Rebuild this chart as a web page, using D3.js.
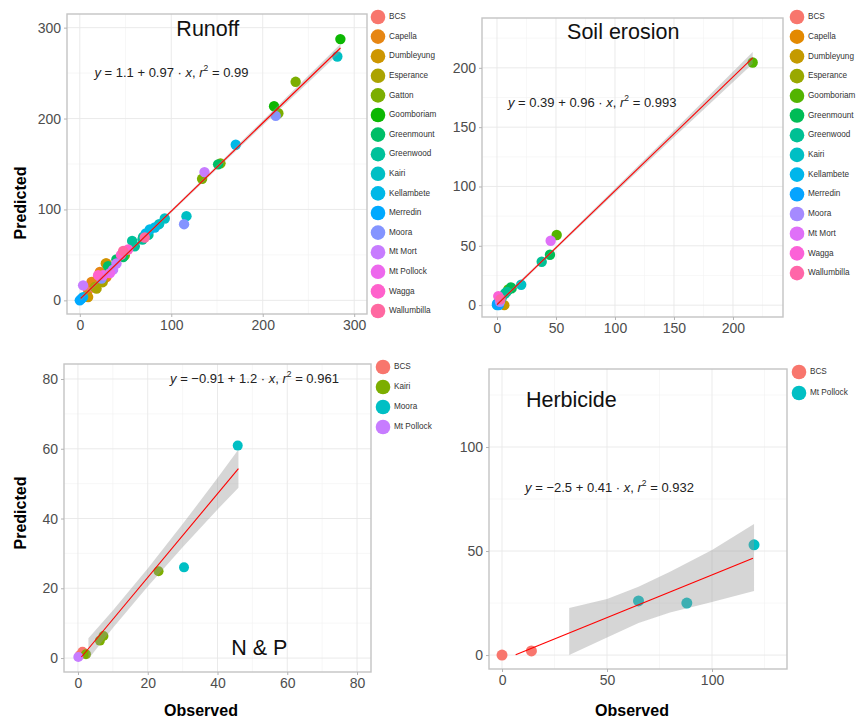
<!DOCTYPE html>
<html>
<head>
<meta charset="utf-8">
<script src="https://cdn.jsdelivr.net/npm/d3@7"></script>
<style>
  body { margin: 0; background: #fff; }
  text { font-family: "Liberation Sans", Arial, sans-serif; }
</style>
</head>
<body>
<script>
// ---- sites (legend order) ----
var runoffSites = ["BCS","Capella","Dumbleyung","Esperance","Gatton","Goomboriam","Greenmount","Greenwood","Kairi","Kellambete","Merredin","Moora","Mt Mort","Mt Pollock","Wagga","Wallumbilla"];
var soilSites = ["BCS","Capella","Dumbleyung","Esperance","Goomboriam","Greenmount","Greenwood","Kairi","Kellambete","Merredin","Moora","Mt Mort","Wagga","Wallumbilla"];
var npSites = ["BCS","Kairi","Moora","Mt Pollock"];
var herbSites = ["BCS","Mt Pollock"];

// ---- runoff points ----
var runoffSite = ["BCS","BCS","Capella","Capella","Capella","Capella","Capella","Dumbleyung","Dumbleyung","Dumbleyung","Esperance","Esperance","Esperance","Gatton","Gatton","Gatton","Gatton","Gatton","Goomboriam","Goomboriam","Greenmount","Greenmount","Greenmount","Greenmount","Greenwood","Greenwood","Greenwood","Greenwood","Greenwood","Kairi","Kairi","Kairi","Kairi","Kellambete","Kellambete","Kellambete","Kellambete","Kellambete","Merredin","Merredin","Moora","Moora","Moora","Mt Mort","Mt Mort","Mt Mort","Mt Mort","Mt Pollock","Mt Pollock","Wagga","Wagga","Wagga","Wallumbilla","Wallumbilla"];
var runoffObs  = [9,33,21.9,29.2,18.3,12.8,29.2,28.4,8,9.1,16.4,18.3,25,236,217.1,133.7,153.8,49.2,284.9,212.4,151.2,47.4,30.9,40,57.2,60.1,68.5,69.2,75,281.6,116.6,86.7,92.9,170.5,82,76.5,72.1,3.6,0,1.9,214.2,114,23.7,136.3,40.1,36.4,3.6,25.5,33,52.8,20,45,71,47.4];
var runoffPred = [11,35,31.2,25.7,22.1,20.2,40.5,40.5,5.5,3.6,14.7,12.9,20,240.4,205.8,133.7,150.7,49.6,287.4,213.5,149.6,47.7,37.5,45,65.4,59.5,66.9,69.8,72,268.3,92.6,83.8,90,171.2,80.2,77.9,73.5,3.6,0,1.9,202.9,83.8,23.9,141.1,40.5,33.8,16.5,27.6,30,55.9,27.6,50,69.1,54.4];

// ---- soil erosion points ----
var soilSite = ["BCS","Capella","Dumbleyung","Esperance","Goomboriam","Goomboriam","Goomboriam","Greenmount","Greenmount","Greenmount","Greenwood","Greenwood","Greenwood","Greenwood","Kairi","Kellambete","Merredin","Merredin","Moora","Mt Mort","Wagga","Wallumbilla"];
var soilObs  = [1,2,6.2,3,216.7,50.6,9.6,44.9,11.9,12.4,37.9,6.8,4,8.2,20.5,0,0,1.5,2.5,45.5,1.1,3];
var soilPred = [2,1,0,4,204.5,59.1,13.2,42.5,14.9,14.1,36.6,9.8,6.2,11.2,17.2,0,1.2,0,2.8,54.3,7.6,5];

// ---- N & P points ----
var npSite = ["BCS","BCS","Kairi","Kairi","Kairi","Kairi","Moora","Moora","Mt Pollock"];
var npObs  = [1.3,0.5,2.3,6.3,7.3,23.1,30.4,45.8,0.1];
var npPred = [1.8,0.8,1.1,5,6.3,24.9,26,60.9,0.3];

// ---- herbicide points ----
var herbSite = ["BCS","BCS","Mt Pollock","Mt Pollock","Mt Pollock"];
var herbObs  = [0,14,65,88,120];
var herbPred = [0,2,26,25,53];

// ---- fitted lines and confidence bands ----
var runoffFitX = [1,285], runoffFitY = [2.1,277.6];
var runoffBandX = [1,50,100,150,200,285];
var runoffBandLo = [-0.4,47.8,96.5,144.6,192.3,273.1];
var runoffBandHi = [4.6,51.4,99.7,148.6,197.9,282.1];

var soilFitX = [0,216.7], soilFitY = [0.4,208.4];
var soilBandX = [0,50,100,150,216.7];
var soilBandLo = [-1.2,47.1,94.6,141.6,203.4];
var soilBandHi = [2.0,49.7,98.2,147.2,213.4];

var npFitX = [1,46], npFitY = [0.3,54.3];
var npBandX = [3,10,20,30,40,46];
var npBandLo = [-0.3,8.6,20.5,31.8,42.6,48.8];
var npBandHi = [5.7,13.6,25.7,38.4,51.6,59.8];

var herbFitX = [6.5,119.5], herbFitY = [0.2,46.5];
var herbBandX = [32,50,65,80,100,120];
var herbBandLo = [0,8.5,15.4,20.5,25.5,30.8];
var herbBandHi = [22.6,27,32.8,40,50.5,63];

// ---- equations ----
var runoffEq = ["1.1 + 0.97", "0.99"];
var soilEq = ["0.39 + 0.96", "0.993"];
var npEq = ["\u22120.91 + 1.2", "0.961"];
var herbEq = ["\u22122.5 + 0.41", "0.932"];

var svg = d3.select("body").append("svg")
    .attr("width",856)
    .attr("height",720);

// ggplot style hue palette (polar Luv)
var hclLuv = function(h,c,l)
{
  var rad = h*Math.PI/180;
  var u = c*Math.cos(rad), v = c*Math.sin(rad);
  var Xn = 95.047, Yn = 100, Zn = 108.883;
  var un = 4*Xn/(Xn+15*Yn+3*Zn), vn = 9*Yn/(Xn+15*Yn+3*Zn);
  var Y = Yn*Math.pow((l+16)/116,3);
  var up = u/(13*l)+un, vp = v/(13*l)+vn;
  var X = Y*9*up/(4*vp);
  var Z = Y*(12-3*up-20*vp)/(4*vp);
  X/=100; Y/=100; Z/=100;
  var rgb = [3.2404542*X-1.5371385*Y-0.4985314*Z,
             -0.9692660*X+1.8760108*Y+0.0415560*Z,
             0.0556434*X-0.2040259*Y+1.0572252*Z];
  rgb = rgb.map(function(d){
    d = d<=0.0031308 ? 12.92*d : 1.055*Math.pow(d,1/2.4)-0.055;
    return Math.round(Math.max(0,Math.min(1,d))*255);
  });
  return d3.rgb(rgb[0],rgb[1],rgb[2]).formatHex();
}

var hueColors = function(n)
{
  var cols = [];
  for (var i=0;i<n;i++)
  {
    cols.push(hclLuv(15+360*i/n,100,65));
  }
  return cols;
}

var drawPanel = function(p)
{
  var x = d3.scaleLinear().domain(p.xDomain).range([p.left,p.right]);
  var y = d3.scaleLinear().domain(p.yDomain).range([p.bottom,p.top]);
  var color = d3.scaleOrdinal().domain(p.sites).range(hueColors(p.sites.length));
  var g = svg.append("g");

  // grid
  g.selectAll(".mx").data(p.minorX).enter().append("line")
    .attr("x1",function(d){return x(d);}).attr("x2",function(d){return x(d);})
    .attr("y1",p.top).attr("y2",p.bottom)
    .attr("stroke","#f2f2f2").attr("stroke-width",0.6);
  g.selectAll(".my").data(p.minorY).enter().append("line")
    .attr("y1",function(d){return y(d);}).attr("y2",function(d){return y(d);})
    .attr("x1",p.left).attr("x2",p.right)
    .attr("stroke","#f2f2f2").attr("stroke-width",0.6);
  g.selectAll(".gx").data(p.ticksX).enter().append("line")
    .attr("x1",function(d){return x(d);}).attr("x2",function(d){return x(d);})
    .attr("y1",p.top).attr("y2",p.bottom)
    .attr("stroke","#e8e8e8").attr("stroke-width",0.9);
  g.selectAll(".gy").data(p.ticksY).enter().append("line")
    .attr("y1",function(d){return y(d);}).attr("y2",function(d){return y(d);})
    .attr("x1",p.left).attr("x2",p.right)
    .attr("stroke","#e8e8e8").attr("stroke-width",0.9);

  // points
  var pts = p.site.map(function(s,i){ return {site:s, obs:p.obs[i], pred:p.pred[i]}; });
  g.selectAll("circle.pt").data(pts).enter().append("circle")
    .attr("cx",function(d){return x(d.obs);})
    .attr("cy",function(d){return y(d.pred);})
    .attr("r",p.r)
    .attr("fill",function(d){return color(d.site);});

  // confidence band, drawn over the points like geom_smooth
  var band = p.bandX.map(function(d,i){ return {x:d, lo:p.bandLo[i], hi:p.bandHi[i]}; });
  g.append("path")
    .datum(band)
    .attr("d",d3.area()
      .x(function(d){return x(d.x);})
      .y0(function(d){return y(d.lo);})
      .y1(function(d){return y(d.hi);}))
    .attr("fill","#999999")
    .attr("fill-opacity",0.4);

  g.append("line")
    .attr("x1",x(p.fitX[0])).attr("y1",y(p.fitY[0]))
    .attr("x2",x(p.fitX[1])).attr("y2",y(p.fitY[1]))
    .attr("stroke","#ff0000").attr("stroke-width",1.1);

  // border
  g.append("rect")
    .attr("x",p.left).attr("y",p.top)
    .attr("width",p.right-p.left).attr("height",p.bottom-p.top)
    .attr("fill","none").attr("stroke","#c4c4c4").attr("stroke-width",1.4);

  // axes
  var xa = g.append("g").attr("transform","translate(0,"+p.bottom+")")
    .call(d3.axisBottom(x).tickValues(p.ticksX).tickSize(3).tickPadding(3).tickFormat(d3.format("d")));
  var ya = g.append("g").attr("transform","translate("+p.left+",0)")
    .call(d3.axisLeft(y).tickValues(p.ticksY).tickSize(3).tickPadding(3).tickFormat(d3.format("d")));
  [xa,ya].forEach(function(a){
    a.select(".domain").remove();
    a.selectAll(".tick line").attr("stroke","#b3b3b3");
    a.selectAll(".tick text")
      .attr("fill","#4d4d4d")
      .attr("font-size",14)
      .attr("font-family","Liberation Sans, Arial, sans-serif");
  });

  // title inside the panel
  g.append("text")
    .attr("x",x(p.titlePos[0])).attr("y",y(p.titlePos[1]))
    .attr("text-anchor","middle")
    .attr("dominant-baseline","middle")
    .attr("font-size",21.5)
    .attr("fill","#111")
    .text(p.title);

  // equation label
  var eq = g.append("text")
    .attr("x",x(p.eqPos[0])).attr("y",y(p.eqPos[1]))
    .attr("dominant-baseline","middle")
    .attr("font-size",13)
    .attr("fill","#222");
  eq.append("tspan").attr("font-style","italic").text("y");
  eq.append("tspan").text(" = "+p.eq[0]+" \u00b7 ");
  eq.append("tspan").attr("font-style","italic").text("x");
  eq.append("tspan").text(",  ");
  eq.append("tspan").attr("font-style","italic").text("r");
  eq.append("tspan").attr("font-size",8.5).attr("dy",-5).text("2");
  eq.append("tspan").attr("dy",5).text(" = "+p.eq[1]);

  // legend
  var leg = g.selectAll("g.leg").data(p.sites).enter().append("g")
    .attr("transform",function(d,i){return "translate("+p.legX+","+(p.legY+i*p.legStep)+")";});
  leg.append("circle").attr("r",7.3).attr("fill",function(d){return color(d);});
  leg.append("text")
    .attr("x",11)
    .attr("dominant-baseline","middle")
    .attr("font-size",8.2)
    .attr("fill","#333")
    .text(function(d){return d;});
}

drawPanel({
  left:67, right:367, top:14, bottom:314,
  xDomain:[-14,314], yDomain:[-15,315],
  ticksX:[0,100,200,300], ticksY:[0,100,200,300],
  minorX:[50,150,250], minorY:[50,150,250],
  sites:runoffSites, site:runoffSite, obs:runoffObs, pred:runoffPred, r:5.2,
  fitX:runoffFitX, fitY:runoffFitY, bandX:runoffBandX, bandLo:runoffBandLo, bandHi:runoffBandHi,
  title:"Runoff", titlePos:[140,297], eq:runoffEq, eqPos:[16,249],
  legX:378, legY:17, legStep:19.6
});

drawPanel({
  left:482, right:783, top:18, bottom:317,
  xDomain:[-12.7,242.4], yDomain:[-10,242],
  ticksX:[0,50,100,150,200], ticksY:[0,50,100,150,200],
  minorX:[25,75,125,175,225], minorY:[25,75,125,175,225],
  sites:soilSites, site:soilSite, obs:soilObs, pred:soilPred, r:5.2,
  fitX:soilFitX, fitY:soilFitY, bandX:soilBandX, bandLo:soilBandLo, bandHi:soilBandHi,
  title:"Soil erosion", titlePos:[107,229], eq:soilEq, eqPos:[9.3,169.6],
  legX:797, legY:17, legStep:19.7
});

drawPanel({
  left:64, right:371, top:364, bottom:672,
  xDomain:[-4,84], yDomain:[-4,84.3],
  ticksX:[0,20,40,60,80], ticksY:[0,20,40,60,80],
  minorX:[10,30,50,70], minorY:[10,30,50,70],
  sites:npSites, site:npSite, obs:npObs, pred:npPred, r:5,
  fitX:npFitX, fitY:npFitY, bandX:npBandX, bandLo:npBandLo, bandHi:npBandHi,
  title:"N & P", titlePos:[52,2.6], eq:npEq, eqPos:[26.4,79.7],
  legX:383, legY:367, legStep:20
});

drawPanel({
  left:489, right:787, top:369, bottom:669,
  xDomain:[-6.2,135.7], yDomain:[-6.7,137.5],
  ticksX:[0,50,100], ticksY:[0,50,100],
  minorX:[25,75,125], minorY:[25,75,125],
  sites:herbSites, site:herbSite, obs:herbObs, pred:herbPred, r:5.5,
  fitX:herbFitX, fitY:herbFitY, bandX:herbBandX, bandLo:herbBandLo, bandHi:herbBandHi,
  title:"Herbicide", titlePos:[33,122], eq:herbEq, eqPos:[11,80],
  legX:799, legY:372, legStep:21
});

// axis titles
svg.append("text")
  .attr("transform","translate(26,203) rotate(-90)")
  .attr("text-anchor","middle")
  .attr("font-size",16).attr("font-weight","bold")
  .text("Predicted");
svg.append("text")
  .attr("transform","translate(26,513) rotate(-90)")
  .attr("text-anchor","middle")
  .attr("font-size",16).attr("font-weight","bold")
  .text("Predicted");
svg.append("text")
  .attr("x",201).attr("y",716)
  .attr("text-anchor","middle")
  .attr("font-size",16).attr("font-weight","bold")
  .text("Observed");
svg.append("text")
  .attr("x",632).attr("y",716)
  .attr("text-anchor","middle")
  .attr("font-size",16).attr("font-weight","bold")
  .text("Observed");
</script>
</body>
</html>
